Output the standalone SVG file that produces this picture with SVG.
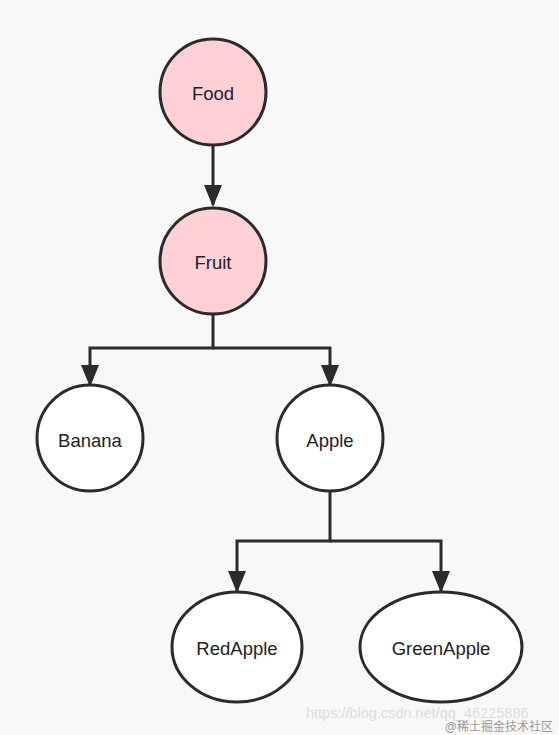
<svg xmlns="http://www.w3.org/2000/svg" width="559" height="735" viewBox="0 0 559 735">
<style>
.node{stroke:#2b2b2b;stroke-width:3}
.pink{fill:#ffd0d6}
.white{fill:#ffffff}
.lbl{font-family:"Liberation Sans",Arial,sans-serif;font-size:18.5px;fill:#222;text-anchor:middle;dominant-baseline:central}
.edge{fill:none;stroke:#2b2b2b;stroke-width:3}
</style>
<defs>
<marker id="arr" markerUnits="userSpaceOnUse" markerWidth="24" markerHeight="18" refX="20" refY="9" orient="auto">
<path d="M0,0 L22,9 L0,18 Z" fill="#2b2b2b"/>
</marker>
</defs>
<rect width="559" height="735" fill="#f8f8f8"/>
<g id="connectors">
<path class="edge" d="M213,145 V205" marker-end="url(#arr)"/>
<path class="edge" d="M213,314 V348 H90 V385" marker-end="url(#arr)"/>
<path class="edge" d="M213,348 H330 V385" marker-end="url(#arr)"/>
<path class="edge" d="M330,491 V541 H237 V591" marker-end="url(#arr)"/>
<path class="edge" d="M330,541 H441 V591" marker-end="url(#arr)"/>
</g>
<g id="food"><circle class="node pink" cx="213" cy="92" r="53"/><text class="lbl" x="213" y="93">Food</text></g>
<g id="fruit"><circle class="node pink" cx="213" cy="261" r="53"/><text class="lbl" x="213" y="262">Fruit</text></g>
<g id="banana"><circle class="node white" cx="90" cy="438" r="53"/><text class="lbl" x="90" y="440">Banana</text></g>
<g id="apple"><circle class="node white" cx="330" cy="438" r="53"/><text class="lbl" x="330" y="440">Apple</text></g>
<g id="redapple"><ellipse class="node white" cx="237" cy="647" rx="65" ry="55"/><text class="lbl" x="237" y="648">RedApple</text></g>
<g id="greenapple"><ellipse class="node white" cx="441" cy="647" rx="81" ry="55"/><text class="lbl" x="441" y="648">GreenApple</text></g>
<text x="306" y="718" font-family="Liberation Sans,Arial,sans-serif" font-size="14.5" fill="#dcdcdc">https://blog.csdn.net/qq_46225886</text>
<text x="553" y="731" text-anchor="end" font-family="Liberation Sans,'Noto Sans CJK SC',sans-serif" font-size="12" fill="#9a9a9a">@稀土掘金技术社区</text>
</svg>
